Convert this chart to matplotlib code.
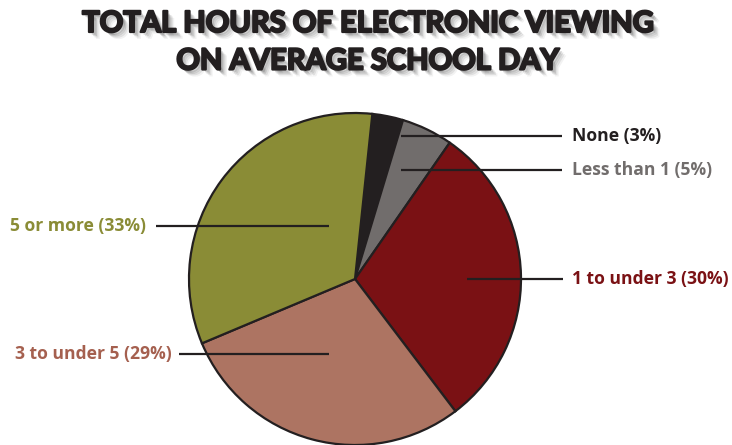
import matplotlib
matplotlib.use("Agg")
import matplotlib.pyplot as plt
import matplotlib.patheffects as pe

# Survey shares (percent), clockwise from the top
categories = ["None", "Less than 1", "1 to under 3", "3 to under 5", "5 or more"]
shares = [3, 5, 30, 29, 33]
colors = ["#231f20", "#716d6c", "#7a1114", "#ad7462", "#8a8c36"]
label_colors = ["#231f20", "#716d6c", "#7a1114", "#a5604f", "#8a8c36"]
title_lines = ["TOTAL HOURS OF ELECTRONIC VIEWING", "ON AVERAGE SCHOOL DAY"]

W, H = 732, 445
fig = plt.figure(figsize=(W / 100, H / 100), dpi=100)
ax = fig.add_axes([0, 0, 1, 1])

cx, cy, r = 355, H - 279, 166
ax.pie(shares, colors=colors, startangle=84, counterclock=False,
       center=(cx, cy), radius=r, frame=True,
       wedgeprops=dict(edgecolor="#231f20", linewidth=1.6))
ax.set_xlim(0, W)
ax.set_ylim(0, H)
ax.set_aspect("equal")
ax.axis("off")

# leader lines: (line start x, line end x, y in image rows, text x, alignment)
leaders = [
    (401, 562, 136, 572, "left"),
    (401, 562, 170, 572, "left"),
    (467, 563, 279, 572, "left"),
    (329, 179, 354, 172, "right"),
    (329, 156, 226, 146, "right"),
]
for cat, val, col, (x0, x1, yi, tx, ha) in zip(categories, shares, label_colors, leaders):
    y = H - yi
    ax.plot([x0, x1], [y, y], color="#231f20", lw=1.6, solid_capstyle="butt")
    ax.text(tx, y, f"{cat} ({val}%)", color=col, ha=ha, va="center",
            fontsize=12.6, fontweight="bold", family="Open Sans")

heavy = pe.withStroke(linewidth=1.6, foreground="#231f20")
shadow = [pe.withSimplePatchShadow(offset=(d, -d), shadow_rgbFace="#000000", alpha=a)
          for d, a in [(5, 0.05), (4, 0.08), (3, 0.12), (2, 0.15)]] + [heavy, pe.Normal()]
for i, line in enumerate(title_lines):
    ax.text(W / 2 + 2, H - (24 + 37.5 * i), line, ha="center", va="center",
            fontsize=21, fontweight="bold", family="Lato", color="#231f20",
            path_effects=shadow)

fig.savefig("out.png", dpi=100)
